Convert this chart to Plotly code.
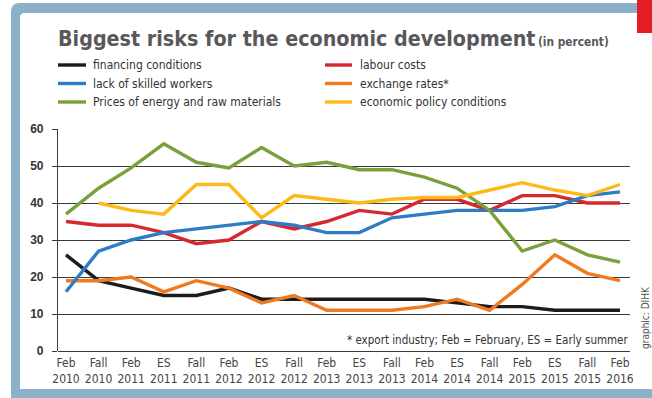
import plotly.graph_objects as go

categories = ["Feb<br>2010", "Fall<br>2010", "Feb<br>2011", "ES<br>2011", "Fall<br>2011", "Feb<br>2012",
              "ES<br>2012", "Fall<br>2012", "Feb<br>2013", "ES<br>2013", "Fall<br>2013", "Feb<br>2014",
              "ES<br>2014", "Fall<br>2014", "Feb<br>2015", "ES<br>2015", "Fall<br>2015", "Feb<br>2016"]

financing = [26, 19, 17, 15, 15, 17, 14, 14, 14, 14, 14, 14, 13, 12, 12, 11, 11, 11]
skilled = [16, 27, 30, 32, 33, 34, 35, 34, 32, 32, 36, 37, 38, 38, 38, 39, 42, 43]
energy = [37, 44, 49.5, 56, 51, 49.5, 55, 50, 51, 49, 49, 47, 44, 38, 27, 30, 26, 24]
labour = [35, 34, 34, 32, 29, 30, 35, 33, 35, 38, 37, 41, 41, 38, 42, 42, 40, 40]
exchange = [19, 19, 20, 16, 19, 17, 13, 15, 11, 11, 11, 12, 14, 11, 18, 26, 21, 19]
policy = [None, 40, 38, 37, 45, 45, 36, 42, 41, 40, 41, 41.5, 41.5, 43.5, 45.5, 43.5, 42, 45]

series = [
    ("financing conditions", financing, "#1c1c1c"),
    ("labour costs", labour, "#d7282f"),
    ("lack of skilled workers", skilled, "#2f7cc6"),
    ("exchange rates*", exchange, "#f07a22"),
    ("Prices of energy and raw materials", energy, "#79a03b"),
    ("economic policy conditions", policy, "#fcb918"),
]

NARROW = "DejaVu Sans Condensed, sans-serif"
FRAME = "#8db0c9"

W, Hh = 652, 398
L, R, T, B = 58, 630, 129, 351


def fx(x):
    return (x - L) / (R - L)


def fy(y):
    return (B - y) / (B - T)


fig = go.Figure()
xs = list(range(len(categories)))
draw_order = ["financing conditions", "exchange rates*", "labour costs", "lack of skilled workers",
              "Prices of energy and raw materials", "economic policy conditions"]
lookup = {n: (v, c) for n, v, c in series}
for name in draw_order:
    vals, col = lookup[name]
    fig.add_trace(go.Scatter(x=xs, y=vals, mode="lines", name=name, showlegend=False,
                             line=dict(color=col, width=3.4), connectgaps=False))

shapes = []
ox0, oy0, ix0, iy0 = 11, 3, 20, 13
ox1, oy1, ix1, iy1 = 700, 406, 700, 389
r1, r2 = 9, 5


def P(x, y):
    return f"{fx(x)},{fy(y)}"


path = (f"M{P(ox0, oy0 + r1)} Q{P(ox0, oy0)} {P(ox0 + r1, oy0)} L{P(ox1, oy0)} L{P(ox1, oy1)} L{P(ox0, oy1)} Z "
        f"M{P(ix0, iy0 + r2)} Q{P(ix0, iy0)} {P(ix0 + r2, iy0)} L{P(ix1, iy0)} L{P(ix1, iy1)} L{P(ix0, iy1)} Z")
shapes.append(dict(type="path", xref="paper", yref="paper", path=path, fillcolor=FRAME,
                   fillrule="evenodd", line=dict(width=0), layer="below"))
shapes.append(dict(type="rect", xref="paper", yref="paper", x0=fx(637), x1=fx(660), y0=fy(-5), y1=fy(33),
                   fillcolor="#e31d25", line=dict(width=0), layer="above"))

annotations = []
annotations.append(dict(xref="paper", yref="paper", x=fx(56), y=fy(39), xanchor="left", yanchor="middle",
                        text="<b>Biggest risks for the economic development</b>", showarrow=False,
                        font=dict(family=NARROW, size=21.3, color="#58585a")))
annotations.append(dict(xref="paper", yref="paper", x=fx(536), y=fy(42), xanchor="left", yanchor="middle",
                        text="<b>(in percent)</b>", showarrow=False,
                        font=dict(family=NARROW, size=11.8, color="#58585a")))

col_x = [(58, 86, 91), (325, 352, 358)]
row_y = [65, 83.5, 102]
legend_cols = [["financing conditions", "lack of skilled workers", "Prices of energy and raw materials"],
               ["labour costs", "exchange rates*", "economic policy conditions"]]
for ci, names in enumerate(legend_cols):
    lx0, lx1, tx = col_x[ci]
    for ri, name in enumerate(names):
        col = lookup[name][1]
        yy = row_y[ri]
        shapes.append(dict(type="line", xref="paper", yref="paper", x0=fx(lx0), x1=fx(lx1), y0=fy(yy), y1=fy(yy),
                           line=dict(color=col, width=3.4)))
        annotations.append(dict(xref="paper", yref="paper", x=fx(tx), y=fy(yy), xanchor="left", yanchor="middle",
                                text=name, showarrow=False, font=dict(family=NARROW, size=12, color="#333333")))

annotations.append(dict(xref="paper", yref="paper", x=fx(630), y=fy(340), xanchor="right", yanchor="middle",
                        text="* export industry; Feb = February, ES = Early summer", showarrow=False,
                        font=dict(family=NARROW, size=11.5, color="#333333")))
annotations.append(dict(xref="paper", yref="paper", x=fx(645), y=fy(318), xanchor="center", yanchor="middle",
                        text="graphic: DIHK", textangle=-90, showarrow=False,
                        font=dict(family=NARROW, size=10, color="#555555")))

fig.update_layout(
    width=W, height=Hh,
    margin=dict(l=L, r=W - R, t=T, b=Hh - B),
    paper_bgcolor="white", plot_bgcolor="white",
    shapes=shapes, annotations=annotations,
    xaxis=dict(tickmode="array", tickvals=xs, ticktext=categories, range=[-0.2455, 17.307],
               showgrid=False, zeroline=False, showline=False, ticks="", ticklabelstandoff=3,
               tickfont=dict(family=NARROW, size=12, color="#444444")),
    yaxis=dict(range=[0, 60], dtick=10, tick0=0, showgrid=True, gridcolor="#3a3a3a", gridwidth=1.2,
               zeroline=True, zerolinecolor="#3a3a3a", zerolinewidth=1.2,
               showline=True, linecolor="#3a3a3a", linewidth=1.2,
               ticks="outside", ticklen=5, tickcolor="#3a3a3a", tickwidth=1.2, ticklabelstandoff=6,
               tickfont=dict(family="Liberation Sans, Arial, sans-serif", size=12, color="#333333", weight="bold")),
)

fig.write_html("out.html")
